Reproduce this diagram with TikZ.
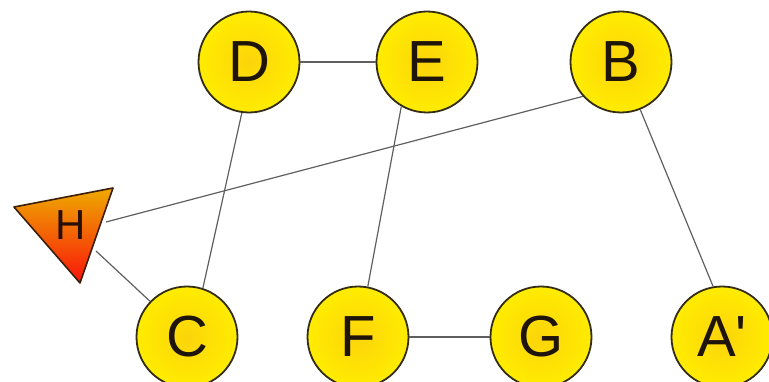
\documentclass[tikz,border=0pt]{standalone}
\usepackage{fontspec}
\setmainfont{Liberation Sans}
\begin{document}
\begin{tikzpicture}[x=1pt,y=-1pt,
  vert/.style={circle,minimum size=101pt,inner sep=0pt,draw={rgb,255:red,50;green,45;blue,20},line width=1.8pt,
    inner color={rgb,255:red,252;green,212;blue,10},outer color={rgb,255:red,255;green,236;blue,0},
    font=\fontsize{58}{60}\selectfont,text={rgb,255:red,30;green,20;blue,10}},
  link/.style={draw={rgb,255:red,95;green,95;blue,95},line width=1.2pt}]
\useasboundingbox (0,0) rectangle (769,382);
% triangle H
\coordinate (t1) at (14,207);
\coordinate (t2) at (113,188);
\coordinate (t3) at (80,283);
\shade[top color={rgb,255:red,238;green,170;blue,0},bottom color={rgb,255:red,250;green,20;blue,10},
  draw={rgb,255:red,60;green,30;blue,10},line width=1.6pt,line join=round] (t1) -- (t2) -- (t3) -- cycle;
\node[font=\fontsize{42}{44}\selectfont,text={rgb,255:red,40;green,15;blue,5}] (H) at (71,225) {H};
\coordinate (hb) at (106,222);
\coordinate (hc) at (96,251);
% vertices
\node[vert] (D) at (249,62) {D};
\node[vert] (E) at (427,62) {E};
\node[vert] (B) at (621,62) {B};
\node[vert] (C) at (187,337) {C};
\node[vert] (F) at (358,337) {F};
\node[vert] (G) at (541,337) {G};
\node[vert] (A) at (722,337) {A\textquotesingle};
% edges
\draw[link] (D) -- (E);
\draw[link] (F) -- (G);
\draw[link] (D.262) -- (C.72);
\draw[link] (E.240) -- (F.79);
\draw[link] (B.222) -- (hb);
\draw[link] (B.292) -- (A.100);
\draw[link] (hc) -- (C.136);
\end{tikzpicture}
\end{document}
